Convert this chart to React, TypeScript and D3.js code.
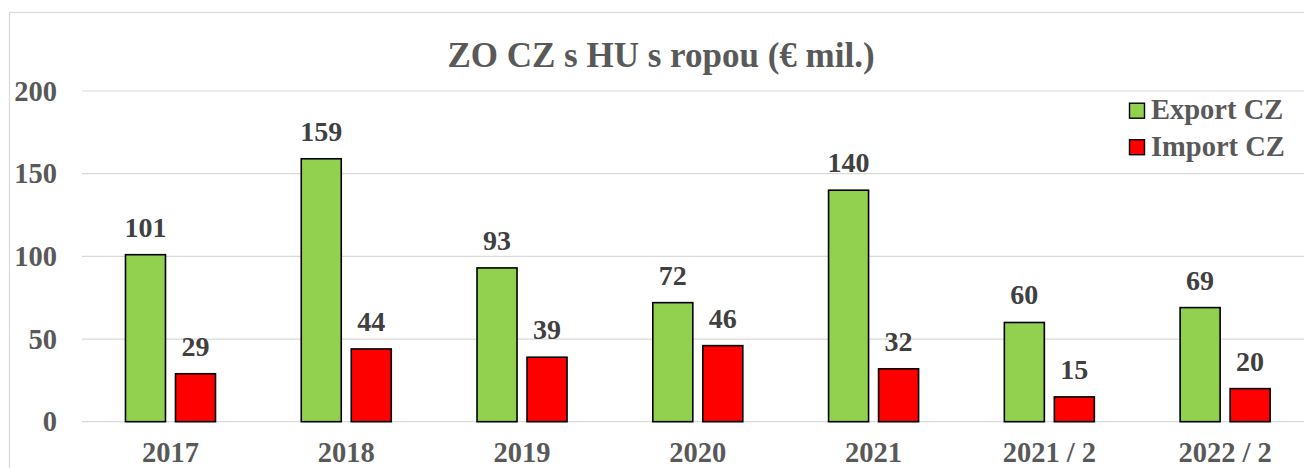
import React from 'react';
import * as d3 from 'd3';

const categories = ['2017', '2018', '2019', '2020', '2021', '2021 / 2', '2022 / 2'];
const exportCZ = [101, 159, 93, 72, 140, 60, 69];
const importCZ = [29, 44, 39, 46, 32, 15, 20];
const seriesNames = ['Export CZ', 'Import CZ'];
const yTicks = [0, 50, 100, 150, 200];

const W = 1304;
const H = 468;
const FONT = '"Liberation Serif", "Times New Roman", serif';
const colors = ['#92d050', '#ff0000'];

const App = () => {
  // plot area runs a bit past the right edge of the picture, like the original
  const x0 = d3.scaleBand<string>().domain(categories).range([82.6, 1313]).padding(0);
  const x1 = d3.scaleBand<string>().domain(seriesNames).range([0, 90]).paddingInner(0.2).paddingOuter(0);
  const groupOffset = (x0.bandwidth() - 90) / 2;
  const y = d3.scaleLinear().domain([0, 200]).range([421.7, 91]);

  const series = [exportCZ, importCZ];

  return (
    <svg width={W} height={H} style={{ position: 'absolute', left: 0, top: 0, background: '#fff' }} fontFamily={FONT}>
      <rect x={9.5} y={12.5} width={1400} height={600} fill="#fff" stroke="#d9d9d9" strokeWidth={1.2} />

      <text x={661} y={67} textAnchor="middle" fontSize={35} fontWeight="bold" fill="#595959">
        ZO CZ s HU s ropou (€ mil.)
      </text>

      {yTicks.map(t => (
        <g key={t}>
          <line x1={82} x2={1313} y1={y(t)} y2={y(t)} stroke="#d9d9d9" strokeWidth={1.2} />
          <text x={57} y={y(t)} dy="0.34em" textAnchor="end" fontSize={28.5} fontWeight="bold" fill="#595959">
            {t}
          </text>
        </g>
      ))}

      {categories.map((c, i) => (
        <g key={c} transform={`translate(${x0(c)! + groupOffset},0)`}>
          {series.map((vals, s) => {
            const bx = x1(seriesNames[s])!;
            const by = y(vals[i]);
            return (
              <g key={s}>
                <rect
                  x={bx}
                  y={by}
                  width={x1.bandwidth()}
                  height={y(0) - by}
                  fill={colors[s]}
                  stroke="#000"
                  strokeWidth={1.6}
                />
                <text
                  x={bx + x1.bandwidth() / 2}
                  y={by - 18}
                  textAnchor="middle"
                  fontSize={28}
                  fontWeight="bold"
                  fill="#404040"
                >
                  {vals[i]}
                </text>
              </g>
            );
          })}
        </g>
      ))}

      {categories.map(c => (
        <text
          key={c}
          x={x0(c)! + x0.bandwidth() / 2}
          y={462}
          textAnchor="middle"
          fontSize={28.5}
          fontWeight="bold"
          fill="#595959"
        >
          {c}
        </text>
      ))}

      {seriesNames.map((name, s) => (
        <g key={name} transform={`translate(1129,${102.7 + s * 36.5})`}>
          <rect x={0.5} y={0.5} width={15} height={15} fill={colors[s]} stroke="#000" strokeWidth={1.4} />
          <text x={22} y={16.5} fontSize={28.5} fontWeight="bold" fill="#595959">
            {name}
          </text>
        </g>
      ))}
    </svg>
  );
};

export default App;
